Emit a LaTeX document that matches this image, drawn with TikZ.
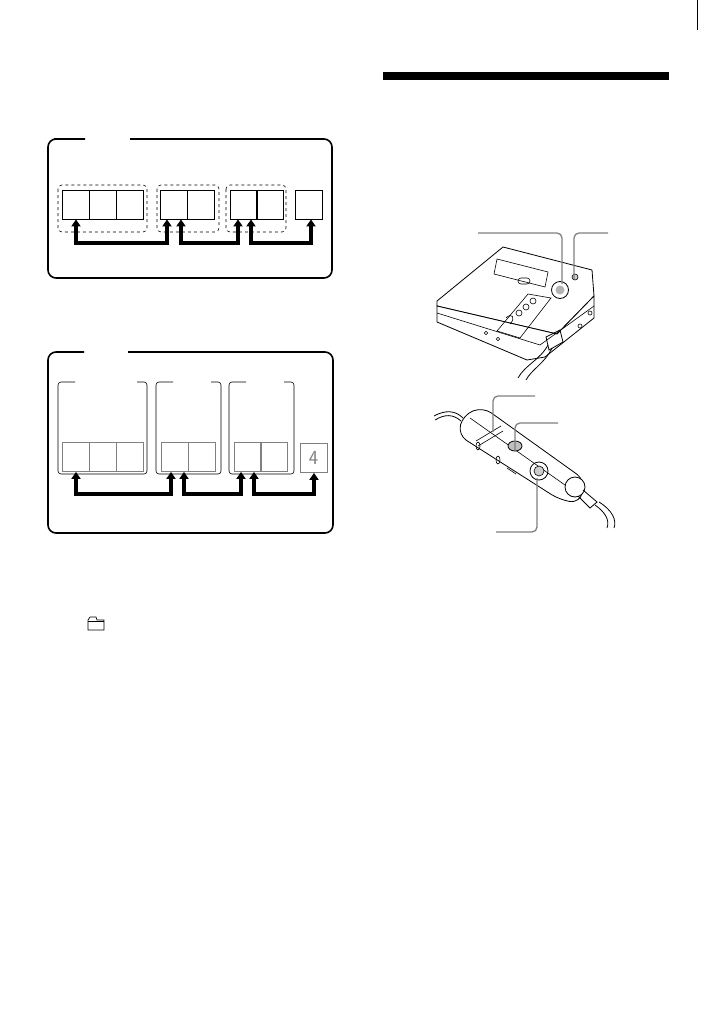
\documentclass[tikz,border=0pt]{standalone}
\usetikzlibrary{arrows.meta,calc}
\tikzset{
  panel/.style={line width=1.6pt, rounded corners=8pt},
  cell/.style={draw, line width=0.8pt, minimum width=27pt, minimum height=29pt, inner sep=0pt},
  graycell/.style={cell, draw=gray},
  group/.style={dashed, rounded corners=4pt, line width=0.6pt},
  link/.style={line width=3.2pt, {Triangle[length=7pt,width=9pt]}-{Triangle[length=7pt,width=9pt]}},
  callout/.style={draw=gray, line width=1.3pt, rounded corners=5pt},
  body/.style={line width=0.8pt, fill=white, line join=round}
}
\begin{document}
\begin{tikzpicture}[x=1pt,y=-1pt]
    \useasboundingbox (0,0) rectangle (724,1030);
    %% page edge and heading bar
    \draw[line width=1pt] (697,0) -- (697,30);
    \fill (383,72) rectangle (669,80);
    %% Upper panel
    \draw[panel] (85,139) -- (62,139) -- (48,139) -- (48,278) -- (332,278) -- (332,139) -- (130,139);
    \draw[group] (58,185) rectangle (147,232);
    \draw[group] (157,185) rectangle (219,232);
    \draw[group] (226,185) rectangle (286,232);
    \foreach \n/\x in {a1/75.5,a2/103,a3/130,b1/173.5,b2/201,c1/243.5,c2/269.5,d1/309} {
      \node[cell] (\n) at (\x,204.5) {};
    }
    \coordinate (ua) at (76,243);  \coordinate (ub) at (167,243);
    \coordinate (uc) at (181,243); \coordinate (ud) at (238,243);
    \coordinate (ue) at (251,243); \coordinate (uf) at (311,243);
    \draw[link] (ua|-a1.south) -- (ua) -- (ub) -- (ub|-b1.south);
    \draw[link] (uc|-b1.south) -- (uc) -- (ud) -- (ud|-c1.south);
    \draw[link] (ue|-c1.south) -- (ue) -- (uf) -- (uf|-d1.south);
    %% Lower panel
    \draw[panel] (84,352) -- (48,352) -- (48,533) -- (333,533) -- (333,352) -- (128,352);
    \foreach \l/\r in {58/147,156/221,229/294} {
      \draw[line width=0.6pt, rounded corners=3pt]
        (\l+17,382) -- (\l,382) -- (\l,474) -- (\r,474) -- (\r,382) -- (\r-10,382);
    }
    \foreach \n/\x in {p1/75.5,p2/103,p3/130,q1/174.5,q2/202,r1/247.5,r2/273.5} {
      \node[graycell] (\n) at (\x,457) {};
    }
    \node[graycell, text=gray, font=\sffamily\fontsize{20}{20}\selectfont] (s1) at (313.5,458) {4};
    \coordinate (la) at (76,494);  \coordinate (lb) at (171,494);
    \coordinate (lc) at (184,494); \coordinate (ld) at (241,494);
    \coordinate (le) at (254,494); \coordinate (lf) at (314,494);
    \draw[link] (la|-p1.south) -- (la) -- (lb) -- (lb|-q1.south);
    \draw[link] (lc|-q1.south) -- (lc) -- (ld) -- (ld|-r1.south);
    \draw[link] (le|-r1.south) -- (le) -- (lf) -- (lf|-s1.south);
    %% folder icon
    \draw[line width=0.7pt] (88,630) -- (88,620) -- (90,617) -- (96,617) -- (97,620) -- (104,620) -- (104,630) -- cycle;
    \draw[line width=0.5pt] (88,621) -- (104,621);
    %% Player
    \draw[body] (437,301) -- (503,247) -- (592,270) -- (594,296) -- (557,334) -- (437,306) -- cycle;
    \draw[body] (437,306) -- (557,334) -- (594,296) -- (594,318) -- (545,357) -- (527,360) -- (437,322) -- cycle;
    \draw[line width=0.6pt] (437,313) -- (540,345) -- (594,306);
    \draw[line width=0.6pt] (497,259) -- (548,272) -- (545,287) -- (494,274) -- cycle;
    \draw[line width=0.6pt, rounded corners=3pt] (518,278) rectangle (530,284);
    \draw[line width=0.8pt] (560,290) circle (8.5pt);
    \fill[gray!60] (560,290) circle (4.5pt);
    \draw[line width=0.6pt, fill=gray!40] (575,277) circle (3pt);
    \draw[line width=0.6pt] (497,331) -- (528,294) -- (551,298) -- (520,338) -- cycle;
    \draw[line width=0.6pt] (533,301) circle (3pt) (526,307) circle (3pt) (519,313) circle (3pt);
    \draw[line width=0.6pt] (506,318) .. controls (512,312) and (516,318) .. (510,324);
    \draw[line width=0.6pt] (580,326) circle (2pt) (590,313) circle (2pt);
    \draw[line width=0.6pt] (486,333) circle (1.8pt) (498,339) circle (1.8pt);
    \draw[line width=0.8pt] (546,337) -- (560,330) -- (563,342) -- (549,350) -- cycle;
    \draw[line width=0.8pt] (548,345) .. controls (540,360) and (525,365) .. (518,378);
    \draw[line width=0.8pt] (552,348) .. controls (546,362) and (531,370) .. (526,380);
    %% Remote
    \draw[line width=0.8pt] (434,416) .. controls (445,410) and (455,410) .. (463,418);
    \draw[line width=0.8pt] (435,420) .. controls (445,414) and (453,414) .. (461,421);
    \draw[body, rounded corners=10pt] (463,415) -- (483,407) -- (585,480) -- (580,503) -- (560,500) -- (458,435) -- cycle;
    \draw[line width=0.6pt] (470,418) -- (572,490);
    \draw[line width=0.6pt] (476,441) -- (501,426) (478,446) -- (503,431);
    \draw[line width=0.6pt] (478,446) ellipse (2pt and 4pt) (498,460) ellipse (2pt and 4pt);
    \draw[line width=0.8pt, fill=gray!50] (515,446) ellipse (7pt and 5pt);
    \draw[line width=0.8pt] (539,471) circle (9pt);
    \draw[line width=0.6pt, fill=gray!40] (539,471) circle (5pt);
    \draw[line width=0.6pt] (507,468) -- (516,474);
    \draw[body] (575,487) circle (10pt);
    \draw[line width=0.8pt] (583,490) -- (597,502) -- (590,508) -- (578,496);
    \draw[line width=0.8pt] (595,505) .. controls (605,512) and (610,520) .. (607,528);
    \draw[line width=0.8pt] (599,502) .. controls (612,510) and (617,520) .. (614,528);
    %% Callouts
    \coordinate (k1) at (478,233); \coordinate (k2) at (562,284);
    \coordinate (k3) at (608,233); \coordinate (k4) at (574,279);
    \coordinate (k5) at (535,396); \coordinate (k6) at (493,432);
    \coordinate (k7) at (558,423); \coordinate (k8) at (515,450);
    \coordinate (k9) at (496,532); \coordinate (k10) at (537,478);
    \draw[callout] (k1) -- (k1-|k2) -- (k2);
    \draw[callout] (k3) -- (k3-|k4) -- (k4);
    \draw[callout] (k5) -- (k5-|k6) -- (k6);
    \draw[callout] (k7) -- (k7-|k8) -- (k8);
    \draw[callout] (k9) -- (k9-|k10) -- (k10);
\end{tikzpicture}
\end{document}
